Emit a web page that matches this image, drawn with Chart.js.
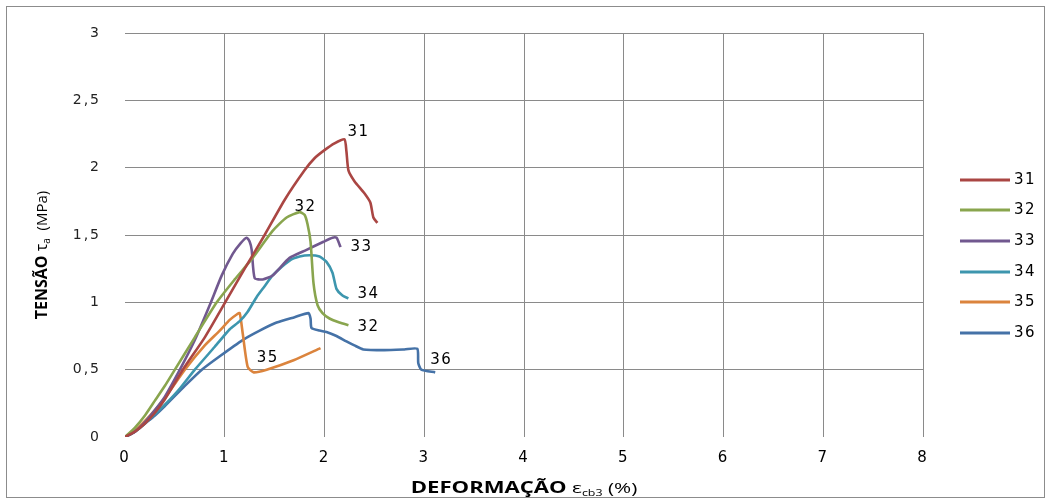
<!DOCTYPE html>
<html>
<head>
<meta charset="utf-8">
<script src="https://cdn.jsdelivr.net/npm/chart.js@4.4.1/dist/chart.umd.min.js"></script>
<style>
body { margin: 0; background: #fff; }
</style>
</head>
<body>
<canvas id="myChart" width="1051" height="504"></canvas>
<script>
// specimen ids
const seriesNames = ['31', '32', '33', '34', '35', '36'];
const seriesColors = ['#AA4643', '#89A54E', '#71588F', '#3D96AE', '#DB843D', '#4572A7'];

// strain (%) / stress (MPa)
const x31 = [0, 0.1, 0.2, 0.3, 0.4, 0.58, 0.8, 1.02, 1.2, 1.4, 1.6, 1.8, 1.9, 2.0, 2.1, 2.2, 2.22, 2.24, 2.3, 2.4, 2.46, 2.49, 2.53];
const y31 = [0, 0.04, 0.1, 0.18, 0.28, 0.5, 0.74, 1.02, 1.25, 1.5, 1.76, 1.98, 2.07, 2.13, 2.18, 2.21, 2.12, 1.98, 1.9, 1.81, 1.74, 1.63, 1.59];

const x32 = [0, 0.1, 0.2, 0.3, 0.4, 0.5, 0.7, 0.92, 1.1, 1.28, 1.48, 1.62, 1.75, 1.8, 1.83, 1.86, 1.89, 1.93, 1.98, 2.05, 2.15, 2.24];
const y32 = [0, 0.07, 0.16, 0.27, 0.38, 0.5, 0.74, 1.0, 1.17, 1.33, 1.53, 1.63, 1.67, 1.65, 1.58, 1.45, 1.14, 0.98, 0.92, 0.88, 0.85, 0.83];

const x33 = [0, 0.1, 0.2, 0.3, 0.4, 0.55, 0.7, 0.85, 0.97, 1.08, 1.16, 1.22, 1.25, 1.27, 1.3, 1.38, 1.48, 1.65, 1.82, 1.99, 2.08, 2.12, 2.14, 2.16];
const y33 = [0, 0.04, 0.11, 0.2, 0.3, 0.5, 0.72, 0.98, 1.2, 1.36, 1.44, 1.48, 1.45, 1.39, 1.18, 1.17, 1.2, 1.33, 1.39, 1.45, 1.48, 1.48, 1.45, 1.41];

const x34 = [0, 0.1, 0.2, 0.3, 0.4, 0.55, 0.7, 0.9, 1.05, 1.15, 1.23, 1.32, 1.4, 1.48, 1.65, 1.75, 1.85, 1.95, 2.02, 2.08, 2.12, 2.18, 2.24];
const y34 = [0, 0.04, 0.1, 0.17, 0.24, 0.36, 0.5, 0.67, 0.8, 0.86, 0.93, 1.04, 1.12, 1.2, 1.31, 1.34, 1.35, 1.34, 1.3, 1.22, 1.1, 1.05, 1.03];

const x35 = [0, 0.1, 0.2, 0.3, 0.4, 0.6, 0.8, 0.95, 1.05, 1.12, 1.15, 1.18, 1.23, 1.29, 1.42, 1.69, 1.96];
const y35 = [0, 0.05, 0.12, 0.2, 0.29, 0.5, 0.68, 0.79, 0.87, 0.91, 0.92, 0.77, 0.52, 0.48, 0.5, 0.57, 0.66];

const x36 = [0, 0.1, 0.2, 0.3, 0.4, 0.6, 0.77, 0.95, 1.18, 1.35, 1.52, 1.7, 1.84, 1.86, 1.87, 1.95, 2.02, 2.12, 2.22, 2.3, 2.39, 2.6, 2.8, 2.93, 2.94, 2.97, 3.11];
const y36 = [0, 0.04, 0.1, 0.16, 0.23, 0.38, 0.5, 0.6, 0.72, 0.79, 0.85, 0.89, 0.92, 0.88, 0.81, 0.79, 0.78, 0.75, 0.71, 0.68, 0.65, 0.645, 0.65, 0.655, 0.55, 0.5, 0.48];

const xTickLabels = ['0', '1', '2', '3', '4', '5', '6', '7', '8'];
const yTickLabels = ['0', '0,5', '1', '1,5', '2', '2,5', '3'];

const allX = [x31, x32, x33, x34, x35, x36];
const allY = [y31, y32, y33, y34, y35, y36];

// text tags next to the curves: series index, point index, offset
const curveTags = [
    { s: 0, i: 15, dx: 3, dy: -7 },
    { s: 1, i: 12, dx: -5, dy: -5 },
    { s: 2, i: 23, dx: 10, dy: 0 },
    { s: 3, i: 22, dx: 9, dy: -4 },
    { s: 1, i: 21, dx: 9, dy: 2 },
    { s: 4, i: 13, dx: 3, dy: -14 },
    { s: 5, i: 26, dx: -5, dy: -12 }
];

const datasets = seriesNames.map((name, k) => ({
    label: name,
    data: allX[k].map((x, j) => ({ x: x, y: allY[k][j] })),
    showLine: true,
    borderColor: seriesColors[k],
    backgroundColor: seriesColors[k],
    borderWidth: 2.6,
    pointRadius: 0,
    tension: 0.2
}));

const gridColor = (c) => c.tick.value === 0 ? 'rgba(0,0,0,0)' : '#8a8a8a';

function drawParts(ctx, parts, x, y, sx) {
    // parts: [text, font, baseline shift]
    let w = 0;
    parts.forEach(p => { ctx.font = p[1]; w += ctx.measureText(p[0]).width; });
    ctx.save();
    ctx.translate(x, y);
    ctx.scale(sx, 1);
    let cx = -w / 2;
    ctx.textAlign = 'left';
    ctx.textBaseline = 'alphabetic';
    parts.forEach(p => {
        ctx.font = p[1];
        ctx.fillText(p[0], cx, p[2]);
        cx += ctx.measureText(p[0]).width;
    });
    ctx.restore();
}

const extras = {
    id: 'extras',
    beforeDraw(chart) {
        chart.ctx.letterSpacing = '2px';
    },
    afterDraw(chart) {
        const ctx = chart.ctx;
        const xs = chart.scales.x, ys = chart.scales.y;
        ctx.save();
        ctx.letterSpacing = '0px';
        ctx.strokeStyle = '#8c8c8c';
        ctx.lineWidth = 1;
        ctx.strokeRect(6.5, 6.5, 1038, 491);

        ctx.fillStyle = '#000';
        // x title
        drawParts(ctx, [
            ['DEFORMAÇÃO', 'bold 16px "Open Sans"', 0],
            [' ε', '15px "Open Sans"', 0],
            ['cb3', '9px "Open Sans"', 3],
            [' (%)', '15px "Open Sans"', 0]
        ], (xs.left + xs.right) / 2, 493, 1.38);

        // y title
        ctx.save();
        ctx.translate(47, 255);
        ctx.rotate(-Math.PI / 2);
        drawParts(ctx, [
            ['TENSÃO ', 'bold 16px "Open Sans"', 0],
            ['τ', '16px "Open Sans"', 0],
            ['a', '10px "Open Sans"', 3],
            ['  (MPa)', '15px "Open Sans"', 0]
        ], 0, 0, 1);
        ctx.restore();

        // legend
        ctx.font = '15px "DejaVu Sans"';
        ctx.letterSpacing = '1.5px';
        ctx.textBaseline = 'middle';
        ctx.textAlign = 'left';
        const legY = [180, 210, 241, 272, 302, 333];
        seriesNames.forEach((name, k) => {
            ctx.strokeStyle = seriesColors[k];
            ctx.lineWidth = 3;
            ctx.beginPath();
            ctx.moveTo(960, legY[k]);
            ctx.lineTo(1010, legY[k]);
            ctx.stroke();
            ctx.fillStyle = '#000';
            ctx.fillText(name, 1014, legY[k]);
        });

        // curve tags
        curveTags.forEach(t => {
            const px = xs.getPixelForValue(allX[t.s][t.i]) + t.dx;
            const py = ys.getPixelForValue(allY[t.s][t.i]) + t.dy;
            ctx.fillText(seriesNames[t.s], px, py);
        });
        ctx.restore();
    }
};

const chart = new Chart(document.getElementById('myChart').getContext('2d'), {
    type: 'scatter',
    data: { datasets: datasets },
    plugins: [extras],
    options: {
        responsive: false,
        animation: false,
        layout: { padding: { top: 33, right: 128, bottom: 0, left: 0 } },
        plugins: { legend: { display: false }, tooltip: { enabled: false } },
        scales: {
            x: {
                type: 'linear',
                min: 0,
                max: 8,
                afterFit: (s) => { s.height = 67; },
                border: { display: false },
                grid: { color: gridColor, drawTicks: false },
                ticks: {
                    stepSize: 1,
                    padding: 12,
                    color: '#000',
                    font: { family: 'DejaVu Sans', size: 15 },
                    callback: (v) => xTickLabels[Math.round(v)]
                }
            },
            y: {
                min: 0,
                max: 3,
                afterFit: (s) => { s.width = 125; },
                border: { display: false },
                grid: { color: gridColor, drawTicks: false },
                ticks: {
                    stepSize: 0.5,
                    padding: 24,
                    color: '#222',
                    font: { family: 'DejaVu Sans', size: 14 },
                    callback: (v) => yTickLabels[Math.round(v * 2)]
                }
            }
        }
    }
});
</script>
</body>
</html>
